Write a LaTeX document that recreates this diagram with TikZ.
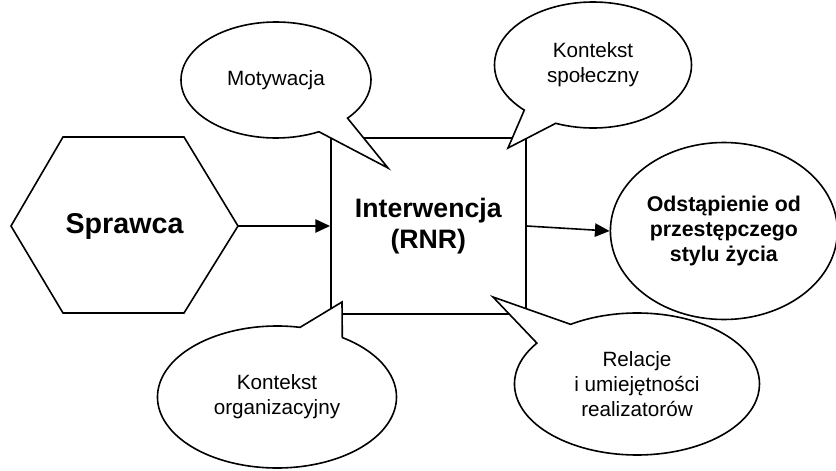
\documentclass[tikz,border=0pt]{standalone}
\usepackage{fontspec}
\setmainfont{Liberation Sans}
\usetikzlibrary{positioning, arrows.meta, shapes.callouts, shapes.geometric}

\begin{document}
\begin{tikzpicture}[x=0.75pt, y=-0.75pt, line width=1.2pt,
        box/.style = {draw, black, fill=white, minimum width=146.25pt, minimum height=132pt, inner sep=2pt, align=center, font=\fontsize{20}{23}\selectfont\bfseries},%
        goal/.style = {draw, black, ellipse, minimum width=170.25pt, minimum height=132.75pt, inner sep=0pt, align=center, font=\fontsize{16}{18.5}\selectfont\bfseries},%
        bubble/.style = {draw, black, fill=white, ellipse callout, callout pointer arc=22, inner sep=0pt, align=center, font=\fontsize{15.5}{18.8}\selectfont},%
        arrow/.style = {-{Triangle[length=11pt, width=10pt]}}%
    ]%
    \useasboundingbox (0,0) rectangle (836,471);
    % sprawca
    \draw (11,226) -- (63,137) -- (184,137) -- (238,226) -- (184,313) -- (63,313) -- cycle;
    \coordinate (hexE) at (238,226);
    \node[font=\fontsize{21.5}{25}\selectfont\bfseries] (sprawca) at (124.5,226) {Sprawca};
    % interwencja i wynik
    \node[box, right=69pt of hexE] (rnr) {Interwencja\\(RNR)};
    \draw[arrow] (hexE) -- (rnr.west);
    % dymki
    \coordinate (tipMot) at (388,168);
    \coordinate (tipSpol) at (508,148);
    \coordinate (tipOrg) at (342,302);
    \coordinate (tipRel) at (493,297);
    \node[bubble, minimum width=142.5pt, minimum height=87pt, callout absolute pointer={(tipMot)}] (mot) at (276,80) {Motywacja};
    \node[bubble, minimum width=147.75pt, minimum height=94.5pt, callout absolute pointer={(tipSpol)}] (spol) at (593,65) {Kontekst\\społeczny};
    \node[bubble, minimum width=179.25pt, minimum height=106.5pt, callout absolute pointer={(tipOrg)}] (org) at (277,397) {Kontekst\\organizacyjny};
    \node[bubble, minimum width=183.75pt, minimum height=106.5pt, callout absolute pointer={(tipRel)}] (rel) at (637,384) {Relacje\\i umiejętności\\realizatorów};
    \node[goal, right=62.25pt of rnr, yshift=-3.75pt] (cel) {Odstąpienie od\\przestępczego\\stylu życia};
    \draw[arrow] (rnr.east) -- (cel.west);
\end{tikzpicture}
\end{document}
